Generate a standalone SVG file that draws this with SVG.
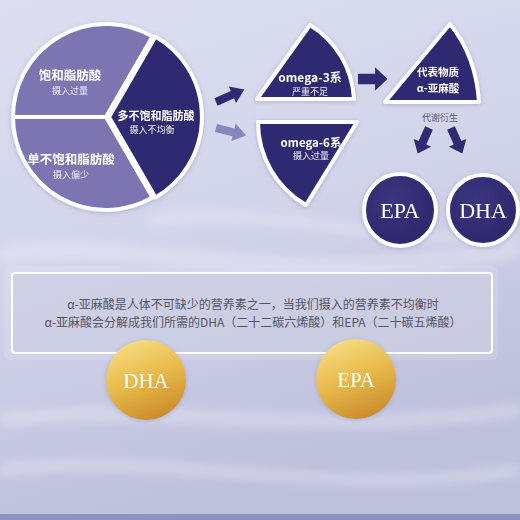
<svg xmlns="http://www.w3.org/2000/svg" width="520" height="520" viewBox="0 0 520 520">
<defs>
<linearGradient id="bg" x1="0" y1="0" x2="0.3" y2="1">
<stop offset="0" stop-color="#dcdef0"/>
<stop offset="0.5" stop-color="#d2d4ea"/>
<stop offset="1" stop-color="#bec0dc"/>
</linearGradient>
<linearGradient id="gold" x1="0.3" y1="0" x2="0.7" y2="1">
<stop offset="0" stop-color="#f8dc80"/>
<stop offset="0.5" stop-color="#e6b848"/>
<stop offset="1" stop-color="#c98a2a"/>
</linearGradient>
<radialGradient id="dk" cx="0.4" cy="0.35" r="0.8">
<stop offset="0" stop-color="#3a3580"/>
<stop offset="1" stop-color="#2a2568"/>
</radialGradient>
<path id="arr" d="M0,-4 L18,-4 L18,-9 L31,0 L18,9 L18,4 L0,4 Z"/>
<filter id="sh" x="-20%" y="-20%" width="140%" height="140%">
<feGaussianBlur in="SourceAlpha" stdDeviation="2"/>
<feOffset dx="0" dy="1" result="b"/>
<feFlood flood-color="#6a6aa0" flood-opacity="0.35"/>
<feComposite in2="b" operator="in"/>
<feMerge><feMergeNode/><feMergeNode in="SourceGraphic"/></feMerge>
</filter>
<filter id="blur" filterUnits="userSpaceOnUse" x="-20" y="0" width="560" height="520"><feGaussianBlur stdDeviation="5"/></filter>
</defs>
<style>
.lt{fill:#7b75b2;stroke:#fff;stroke-width:4;stroke-linejoin:round}
.dk{fill:#2f2a72;stroke:#fff;stroke-width:4;stroke-linejoin:round}
.h{font-family:"Noto Sans CJK SC","Liberation Sans",sans-serif;font-weight:700;fill:#fff;text-anchor:middle}
.s{font-family:"Noto Sans CJK SC","Liberation Sans",sans-serif;fill:#eeeef8;text-anchor:middle}
.ser{font-family:"Liberation Serif","DejaVu Serif",serif;fill:#fff;text-anchor:middle}
.t{font-family:"Noto Sans CJK SC","Liberation Sans",sans-serif;fill:#555566;text-anchor:middle;font-size:12px}
.wave{fill:none;stroke:#ffffff;stroke-opacity:0.25}
</style>
<rect width="520" height="520" fill="url(#bg)"/>
<g filter="url(#blur)">
<path class="wave" stroke-width="16" d="M0,255 C120,235 260,290 520,250"/>
<path class="wave" stroke-width="14" d="M0,420 C150,400 300,440 520,410"/>
<path class="wave" stroke-width="12" d="M0,470 C160,450 330,500 520,470"/>
<path class="wave" stroke-width="10" d="M150,222 C250,200 400,250 520,235"/>
</g>
<rect x="0" y="514" width="520" height="6" fill="#8f90c2"/>

<g id="pie" filter="url(#sh)">
<g id="saturated">
<path class="lt" d="M106,117 L13,117 A93,93 0 0 1 152.5,36.5 Z"/>
<text class="h" x="70" y="80" font-size="12.5">饱和脂肪酸</text>
<text class="s" x="70" y="94" font-size="9">摄入过量</text>
</g>
<g id="mono">
<path class="lt" d="M106,117 L152.5,197.5 A93,93 0 0 1 13,117 Z"/>
<text class="h" x="71" y="164" font-size="12.5">单不饱和脂肪酸</text>
<text class="s" x="71" y="178" font-size="9">摄入偏少</text>
</g>
<g id="poly">
<path class="dk" d="M109,117 L155.5,36.5 A93,93 0 0 1 155.5,197.5 Z"/>
<text class="h" x="156" y="120" font-size="11">多不饱和脂肪酸</text>
<text class="s" x="152" y="133" font-size="9">摄入不均衡</text>
</g>
</g>

<g id="connectors">
<use href="#arr" fill="#2f2a72" transform="translate(216,102) rotate(-24)"/>
<use href="#arr" fill="#8985bd" transform="translate(216,128) rotate(14)"/>
<use href="#arr" fill="#2f2a72" transform="translate(358,79) scale(0.95,1.3)"/>
<use href="#arr" fill="#2f2a72" transform="translate(429,128) rotate(114) scale(0.9,1.05)"/>
<use href="#arr" fill="#2f2a72" transform="translate(451,128) rotate(66) scale(0.9,1.05)"/>
<text x="440" y="121" font-family="Noto Sans CJK SC, sans-serif" font-size="9" fill="#5a5a72" text-anchor="middle">代谢衍生</text>
</g>

<g id="omega3" filter="url(#sh)">
<path class="dk" d="M257,99 L310,25 A92,92 0 0 1 354,99 Z"/>
<text class="h" x="310" y="82" font-size="12">omega-3系</text>
<text class="s" x="310" y="95" font-size="9">严重不足</text>
</g>
<g id="omega6" filter="url(#sh)">
<path class="dk" d="M357,122 L306,205 A96,96 0 0 1 258,122 Z"/>
<text class="h" x="311" y="147" font-size="11.5">omega-6系</text>
<text class="s" x="311" y="159" font-size="9">摄入过量</text>
</g>
<g id="ala" filter="url(#sh)">
<path class="dk" d="M385,102 L450,24 Q476,56 479,102 Z"/>
<text class="h" x="438" y="76" font-size="10.5">代表物质</text>
<text class="h" x="438" y="92" font-size="10.5">α-亚麻酸</text>
</g>
<g id="epa1" filter="url(#sh)">
<circle cx="400" cy="210" r="36" fill="url(#dk)" stroke="#fff" stroke-width="4"/>
<text class="ser" x="400" y="218" font-size="22">EPA</text>
</g>
<g id="dha1" filter="url(#sh)">
<circle cx="483" cy="210" r="35" fill="url(#dk)" stroke="#fff" stroke-width="4"/>
<text class="ser" x="483" y="218" font-size="22">DHA</text>
</g>

<g id="note">
<rect x="4" y="266" width="494" height="94" rx="6" fill="#ffffff" fill-opacity="0.12"/>
<rect x="12" y="273" width="480" height="80" rx="3" fill="#c9cae0" fill-opacity="0.55" stroke="#ffffff" stroke-width="2"/>
<text class="t" x="253" y="309">α-亚麻酸是人体不可缺少的营养素之一，当我们摄入的营养素不均衡时</text>
<text class="t" x="253" y="327">α-亚麻酸会分解成我们所需的DHA（二十二碳六烯酸）和EPA（二十碳五烯酸）</text>
</g>

<g id="dha2" filter="url(#sh)">
<circle cx="146" cy="380" r="40" fill="url(#gold)"/>
<text class="ser" x="146" y="388" font-size="21">DHA</text>
</g>
<g id="epa2" filter="url(#sh)">
<circle cx="356" cy="379" r="40" fill="url(#gold)"/>
<text class="ser" x="356" y="387" font-size="21">EPA</text>
</g>
</svg>
